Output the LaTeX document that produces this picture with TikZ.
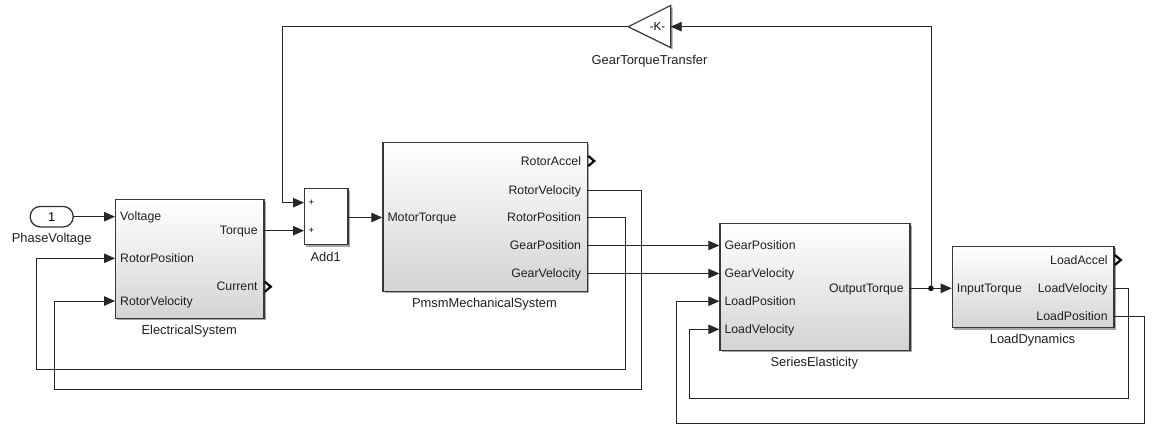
\documentclass[tikz,border=0pt]{standalone}
\usepackage{fontspec}
\setmainfont{Liberation Sans}
\usetikzlibrary{arrows.meta,shadows,calc}

\begin{document}
\begin{tikzpicture}[x=1pt,y=-1pt,
  shadowed/.style={drop shadow={shadow xshift=1.8pt, shadow yshift=-1.8pt, opacity=0.35, fill=black}},
  block/.style={draw=black!78, line width=1.2pt, top color=white, bottom color=black!17,
    shadowed, anchor=north west, inner sep=0pt},
  plainblock/.style={draw=black!78, line width=1.2pt, fill=white, shadowed, anchor=north west, inner sep=0pt},
  portin/.style={font=\fontsize{12.3}{14}\selectfont, text=black!88, anchor=base west, inner sep=0pt},
  portout/.style={font=\fontsize{12.3}{14}\selectfont, text=black!88, anchor=base east, inner sep=0pt},
  bname/.style={font=\fontsize{12.9}{15}\selectfont, text=black!88, anchor=base, inner sep=0pt},
  sig/.style={draw=black!85, line width=0.9pt},
  arr/.style={sig, -{Triangle[length=11pt,width=9.5pt]}},
  chev/.style={draw=black, line width=2.2pt, line join=miter},
]
\useasboundingbox (0,0) rectangle (1160,427);

% ---------- blocks ----------
\node[draw=black!80, line width=1.3pt, fill=white, rounded corners=10pt, minimum width=43pt,
      minimum height=20.5pt, inner sep=0pt, font=\fontsize{12.8}{14}\selectfont] (pv) at (51.7,216.7) {1};
\node[bname] (pvname) at (51.7,243) {PhaseVoltage};

\node[block, minimum width=148.3pt, minimum height=118.4pt] (es) at (115,199.3) {};
\node[bname] (esname) at (189.2,335) {ElectricalSystem};

\node[plainblock, minimum width=43.3pt, minimum height=56pt] (add) at (304,188.3) {};
\node[bname] (addname) at (325.7,261.7) {Add1};
\node[font=\fontsize{9.5}{10}\selectfont, inner sep=0pt] (addp1) at (311.5,202.7) {+};
\node[font=\fontsize{9.5}{10}\selectfont, inner sep=0pt] (addp2) at (311.5,230.7) {+};

\node[block, minimum width=204.4pt, minimum height=149.3pt] (pm) at (382.3,141.7) {};
\node[bname] (pmname) at (484.5,307.5) {PmsmMechanicalSystem};

\node[block, minimum width=190pt, minimum height=126.7pt] (se) at (719.3,223.3) {};
\node[bname] (sename) at (814.3,367) {SeriesElasticity};

\node[block, minimum width=161.6pt, minimum height=81.6pt] (ld) at (951.7,245.7) {};
\node[bname] (ldname) at (1032.5,344) {LoadDynamics};

% gain
\filldraw[fill=white, draw=black!78, line width=1.1pt, shadowed]
  (628.3,26.7) -- (670.7,5.5) -- (670.7,47.5) -- cycle;
\node[font=\fontsize{11.5}{12}\selectfont, inner sep=0pt] (gain) at (657.5,26.7) {-K-};
\node[bname] (gainname) at (649.5,65) {GearTorqueTransfer};

% ---------- port labels ----------
\node[portin] (l1) at (120,220.9) {Voltage};
\node[portin] (l2) at (120,262.5) {RotorPosition};
\node[portin] (l3) at (120,305.2) {RotorVelocity};
\node[portout] (l4) at (257.8,234.9) {Torque};
\node[portout] (l5) at (257.8,290.9) {Current};

\node[portin] (l6) at (387.3,221.7) {MotorTorque};
\node[portout] (l7) at (581.2,165.2) {RotorAccel};
\node[portout] (l8) at (581.2,194.2) {RotorVelocity};
\node[portout] (l9) at (581.2,221.7) {RotorPosition};
\node[portout] (l10) at (581.2,249.7) {GearPosition};
\node[portout] (l11) at (581.2,277.7) {GearVelocity};

\node[portin] (l12) at (724.3,249.7) {GearPosition};
\node[portin] (l13) at (724.3,277.7) {GearVelocity};
\node[portin] (l14) at (724.3,305.4) {LoadPosition};
\node[portin] (l15) at (724.3,333.5) {LoadVelocity};
\node[portout] (l16) at (903.8,292.5) {OutputTorque};

\node[portin] (l17) at (956.7,292.5) {InputTorque};
\node[portout] (l18) at (1107.8,264.2) {LoadAccel};
\node[portout] (l19) at (1107.8,292.5) {LoadVelocity};
\node[portout] (l20) at (1107.8,320.2) {LoadPosition};

% ---------- port coordinates ----------
\coordinate (es-volt) at (115,216.7);
\coordinate (es-rp) at (115,258.3);
\coordinate (es-rv) at (115,301);
\coordinate (es-tq) at (263.3,230.7);
\coordinate (add-in1) at (304,202.7);
\coordinate (add-in2) at (304,230.7);
\coordinate (add-out) at (347.3,217.5);
\coordinate (pm-mt) at (382.3,217.5);
\coordinate (pm-rv) at (586.7,190);
\coordinate (pm-rp) at (586.7,217.5);
\coordinate (pm-gp) at (586.7,245.5);
\coordinate (pm-gv) at (586.7,273.5);
\coordinate (se-gp) at (719.3,245.5);
\coordinate (se-gv) at (719.3,273.5);
\coordinate (se-lp) at (719.3,301.2);
\coordinate (se-lv) at (719.3,329.3);
\coordinate (se-ot) at (909.3,288.3);
\coordinate (jn) at (931,288.3);
\coordinate (ld-it) at (951.7,288.3);
\coordinate (ld-lv) at (1113.3,288.3);
\coordinate (ld-lp) at (1113.3,316);
\coordinate (gain-in) at (670.7,26.7);
\coordinate (gain-out) at (628.3,26.7);

% ---------- output port chevrons ----------
\draw[chev] (264.8,281.6) -- (270.8,286.7) -- (264.8,291.8);
\draw[chev] (588.2,155.9) -- (594.2,161) -- (588.2,166.1);
\draw[chev] (1114.8,254.9) -- (1120.8,260) -- (1114.8,265.1);

% ---------- signals ----------
\draw[arr] (pv.east) -- (es-volt);
\draw[arr] (es-tq) -- (add-in2);
\draw[arr] (gain-out) -| (282.7,202.7) -- (add-in1);
\draw[arr] (add-out) -- (pm-mt);
\draw[arr] (pm-rv) -| (641.7,389) -| (54.3,301) -- (es-rv);
\draw[arr] (pm-rp) -| (625.7,369.3) -| (36.7,258.3) -- (es-rp);
\draw[arr] (pm-gp) -- (se-gp);
\draw[arr] (pm-gv) -- (se-gv);
\draw[sig] (se-ot) -- (jn);
\fill[black] (jn) circle (2.8);
\draw[arr] (jn) -- (ld-it);
\draw[arr] (jn) |- (gain-in);
\draw[arr] (ld-lv) -| (1128.3,398.3) -| (689.3,329.3) -- (se-lv);
\draw[arr] (ld-lp) -| (1144.5,423) -| (676.7,301.2) -- (se-lp);
\end{tikzpicture}
\end{document}
